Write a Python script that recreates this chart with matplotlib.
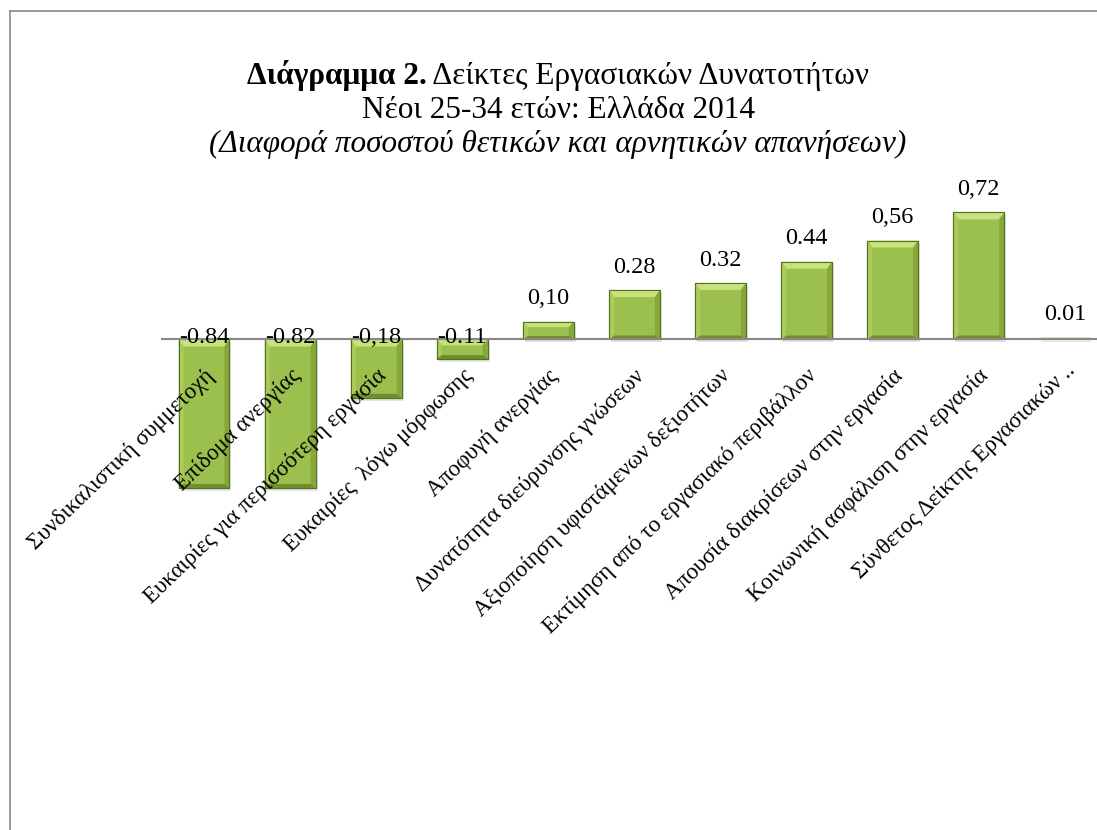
import numpy as np
import matplotlib
matplotlib.use("Agg")
import matplotlib.pyplot as plt
from matplotlib.lines import Line2D
from matplotlib.patches import Polygon, Rectangle

# data (bar heights) and the labels printed on it
categories = [
    "Συνδικαλιστική συμμετοχή",
    "Επίδομα ανεργίας",
    "Ευκαιρίες για περισσότερη εργασία",
    "Ευκαιρίες  λόγω μόρφωσης",
    "Αποφυγή ανεργίας",
    "Δυνατότητα διεύρυνσης γνώσεων",
    "Αξιοποίηση υφιστάμενων δεξιοτήτων",
    "Εκτίμηση από το εργασιακό περιβάλλον",
    "Απουσία διακρίσεων στην εργασία",
    "Κοινωνική ασφάλιση στην εργασία",
    "Σύνθετος Δείκτης Εργασιακών ..",
]
values = [-0.84, -0.84, -0.33, -0.11, 0.10, 0.28, 0.32, 0.44, 0.56, 0.72, 0.01]
value_labels = ["-0.84", "-0.82", "-0,18", "-0.11", "0,10", "0.28", "0.32",
                "0.44", "0,56", "0,72", "0.01"]

SERIF = "Liberation Serif"
W, H = 1097, 830
TITLE_FS = 22.5

fig = plt.figure(figsize=(W / 100, H / 100), dpi=100)
fig.patch.set_facecolor("white")

# plot area (extends past the right edge, as in the cropped original)
x0_px, x1_px = 161, 1108
zero_px = 339.5
scale = 176.7  # px per unit
ymin, ymax = -1.0, 0.8
top_px = zero_px - ymax * scale
bot_px = zero_px - ymin * scale
ax = fig.add_axes([x0_px / W, 1 - bot_px / H, (x1_px - x0_px) / W, (bot_px - top_px) / H])
ax.set_xlim(-0.5, len(values) - 0.5)
ax.set_ylim(ymin, ymax)
ax.axis("off")

px_x = (len(values)) / (x1_px - x0_px)
px_y = 1 / scale

x = np.arange(len(values))
bw = 0.59

# soft shadow
for xi, v in zip(x, values):
    ax.add_patch(Rectangle((xi - bw / 2 + 2 * px_x, min(v, 0) - 3 * px_y), bw, abs(v),
                           facecolor="#000000", alpha=0.10, edgecolor="none", zorder=1))

bars = ax.bar(x, values, width=bw, color="#9cc04e", edgecolor="#55701f", linewidth=0.8, zorder=2)

# bevel facets
for b in bars:
    bx, by = b.get_x(), b.get_y()
    w, h = b.get_width(), b.get_height()
    ylo, yhi = min(by, by + h), max(by, by + h)
    hh = yhi - ylo
    t = min(7 * px_y, hh * 0.3)
    bt = min(4 * px_y, hh * 0.2)
    s = 5 * px_x
    xl, xr = bx, bx + w
    facets = [
        ([(xl, yhi), (xr, yhi), (xr - s, yhi - t), (xl + s, yhi - t)], "#c8e27f"),
        ([(xl, yhi), (xl + s, yhi - t), (xl + s, ylo + bt), (xl, ylo)], "#a9cc5c"),
        ([(xr, yhi), (xr - s, yhi - t), (xr - s, ylo + bt), (xr, ylo)], "#86a83a"),
        ([(xl, ylo), (xl + s, ylo + bt), (xr - s, ylo + bt), (xr, ylo)], "#6f8f2c"),
    ]
    for pts, col in facets:
        ax.add_patch(Polygon(pts, closed=True, facecolor=col, edgecolor="none", zorder=3))
    ax.add_patch(Rectangle((xl, ylo), w, hh, facecolor="none", edgecolor="#55701f",
                           linewidth=0.8, zorder=3.5))

ax.axhline(0, color="#878787", linewidth=1.5, zorder=4)

# value labels
for xi, v, lab in zip(x, values, value_labels):
    if v >= 0:
        ax.annotate(lab, (xi, v), xytext=(0, 12.5), textcoords="offset points",
                    ha="center", va="baseline", fontsize=17.5, family=SERIF, zorder=6)
    else:
        ax.annotate(lab, (xi, 0), xytext=(0, -2.5), textcoords="offset points",
                    ha="center", va="baseline", fontsize=17.5, family=SERIF, zorder=6)

# category labels
for xi, lab in zip(x, categories):
    dy = -0.16 if xi == len(categories) - 1 else -0.19
    ax.text(xi + 0.08, dy, lab, rotation=44, rotation_mode="anchor",
            ha="right", va="center", fontsize=16.5, family=SERIF, zorder=6)

# title
cx = 558 / W
fig.canvas.draw()
r = fig.canvas.get_renderer()
t1 = fig.text(0, 1 - 84 / H, "Διάγραμμα 2.", fontsize=TITLE_FS, family=SERIF,
              fontweight="bold", va="baseline", ha="left")
t2 = fig.text(0, 1 - 84 / H, " Δείκτες Εργασιακών Δυνατοτήτων", fontsize=TITLE_FS,
              family=SERIF, va="baseline", ha="left")
w1 = t1.get_window_extent(r).width
w2 = t2.get_window_extent(r).width
start = 558 - (w1 + w2) / 2
t1.set_x(start / W)
t2.set_x((start + w1) / W)
fig.text(cx, 1 - 118 / H, "Νέοι 25-34 ετών: Ελλάδα 2014", fontsize=TITLE_FS, family=SERIF,
         va="baseline", ha="center")
fig.text(cx, 1 - 152 / H, "(Διαφορά ποσοστού θετικών και αρνητικών απανήσεων)",
         fontsize=TITLE_FS, family=SERIF, style="italic", va="baseline", ha="center")

# chart frame (only left and top edges fall inside the picture)
fig.add_artist(Line2D([10 / W, 10 / W], [1 - 11 / H, 0], transform=fig.transFigure,
                      color="#8a8a8a", linewidth=1.2))
fig.add_artist(Line2D([10 / W, 1], [1 - 11 / H, 1 - 11 / H], transform=fig.transFigure,
                      color="#8a8a8a", linewidth=1.2))

fig.savefig("out.png", dpi=100)
